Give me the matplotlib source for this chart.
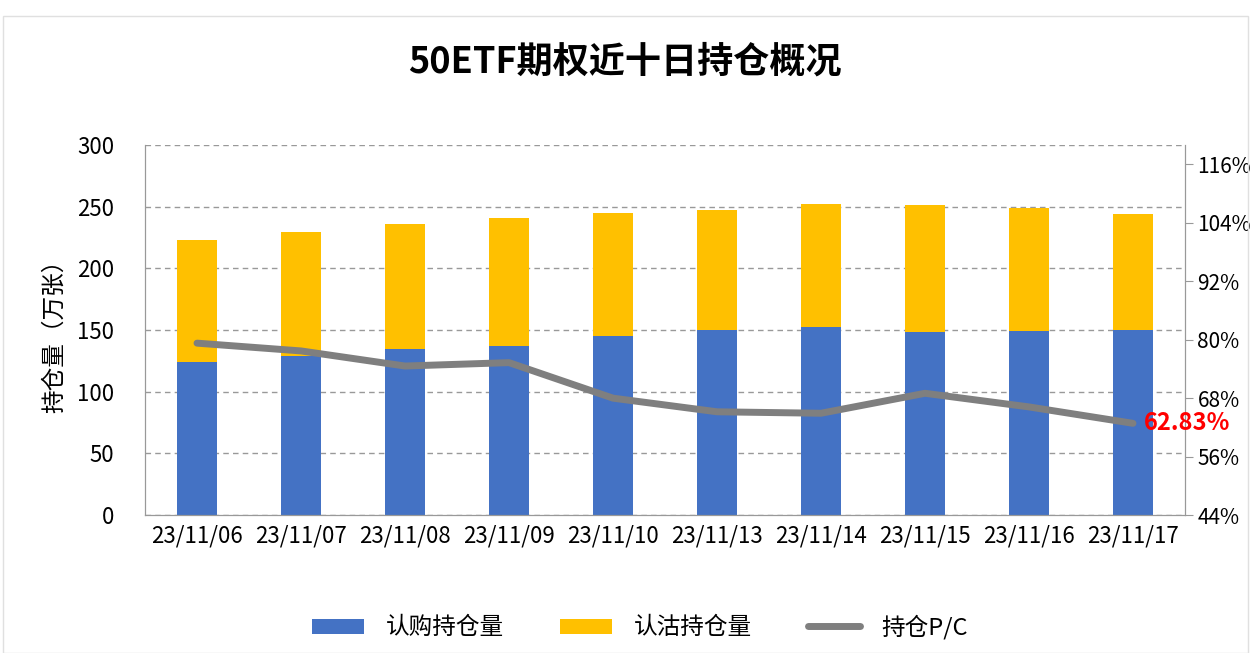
import matplotlib.pyplot as plt
import numpy as np

plt.rcParams['font.family'] = ['Noto Sans CJK SC', 'DejaVu Sans']

dates = ['23/11/06', '23/11/07', '23/11/08', '23/11/09', '23/11/10',
         '23/11/13', '23/11/14', '23/11/15', '23/11/16', '23/11/17']
call_oi = [124, 129, 135, 137, 145, 149.7, 152.7, 148.7, 149.5, 149.7]
put_oi = [98.6, 100.5, 101, 104, 99.6, 97.6, 99.5, 102.7, 99.2, 94.3]
pc_ratio = [0.793, 0.777, 0.746, 0.753, 0.68, 0.652, 0.649, 0.69, 0.662, 0.6283]

fig = plt.figure(figsize=(12.5, 6.53), dpi=100)
ax = fig.add_axes([145/1250, 1-515/653, 1040/1250, 370/653])
x = np.arange(len(dates))
ax.bar(x, call_oi, width=0.39, color='#4472C4', label='认购持仓量', zorder=2)
ax.bar(x, put_oi, width=0.39, bottom=call_oi, color='#FFC000', label='认沽持仓量', zorder=2)
ax.set_xlim(-0.5, len(dates)-0.5)
ax.set_ylim(0, 300)
ax.set_yticks(range(0, 301, 50))
ax.set_xticks(x)
ax.set_xticklabels(dates)
ax.tick_params(axis='both', labelsize=16, length=0)
ax.tick_params(axis='y', pad=22)
ax.tick_params(axis='x', pad=7)
ax.yaxis.grid(True, linestyle=(0, (4, 3)), color='#999999', linewidth=1, zorder=0)
for s in ['left', 'bottom', 'right']:
    ax.spines[s].set_color('#999999')
ax.spines['top'].set_visible(False)
ax.set_ylabel('持仓量（万张）', fontsize=17, labelpad=8)

ax2 = ax.twinx()
ax2.plot(x, pc_ratio, color='#7F7F7F', linewidth=5, label='持仓P/C', zorder=3,
         solid_capstyle='round')
ax2.set_ylim(0.44, 1.20)
ax2.set_yticks(np.arange(0.44, 1.17, 0.12))
ax2.set_yticklabels([f'{int(round(v*100))}%' for v in np.arange(0.44, 1.17, 0.12)])
ax2.tick_params(axis='y', labelsize=15, direction='out', length=6, color='#999999', pad=3)
for s in ['left', 'bottom', 'right']:
    ax2.spines[s].set_color('#999999')
ax2.spines['top'].set_visible(False)
ax2.annotate(f'{pc_ratio[-1]*100:.2f}%', (x[-1], pc_ratio[-1]), xytext=(8, 0),
             textcoords='offset points', ha='left', va='center',
             color='#FF0000', fontsize=17, fontweight='bold')

fig.text(0.5, 1-62/653, '50ETF期权近十日持仓概况', ha='center', va='center',
         fontsize=26, fontweight='bold')

h1, l1 = ax.get_legend_handles_labels()
h2, l2 = ax2.get_legend_handles_labels()
fig.legend(h1+h2, l1+l2, loc='center', bbox_to_anchor=(0.512, 1-627/653), ncol=3,
           frameon=False, fontsize=17, handlelength=2.2, handleheight=0.6,
           handletextpad=0.9, columnspacing=2.4)

fig.patches.append(plt.Rectangle((3/1250, 0), 1245/1250, 1-16/653, transform=fig.transFigure,
                                 fill=False, edgecolor='#E0E0E0', linewidth=1))

plt.savefig('out.png')
